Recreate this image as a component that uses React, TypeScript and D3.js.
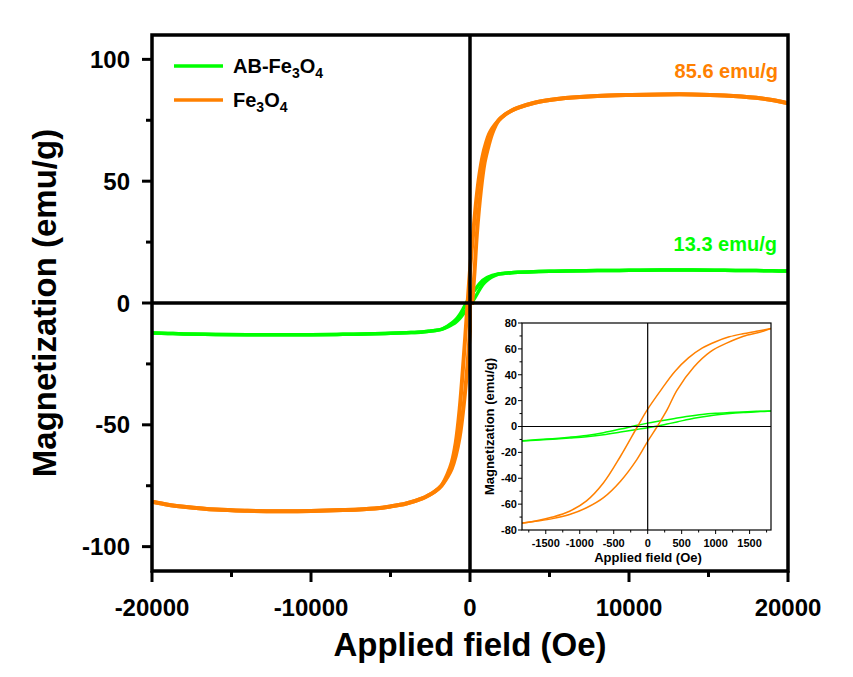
import React from "react";
import * as d3 from "d3";

// ---------- data ----------
const mainFieldPos = [1800, 2200, 2600, 3000, 4000, 5000, 6000, 8000, 10000, 12000, 14000, 16000, 18000, 19000, 20000];
const mainFieldNeg = [-1800, -2200, -2600, -3000, -4000, -5000, -6000, -8000, -10000, -12000, -14000, -16000, -18000, -19000, -20000];
const orangeMainPos = [75.0, 77.3, 78.9, 80.1, 82.1, 83.3, 84.1, 85.0, 85.4, 85.6, 85.6, 85.2, 84.2, 83.3, 82];
const orangeMainNeg = [-75.0, -77.3, -78.9, -80.2, -82.3, -83.5, -84.3, -85.0, -85.4, -85.5, -85.3, -84.8, -83.6, -82.8, -81.6];
const greenMainPos = [11.9, 12.2, 12.45, 12.6, 12.85, 13.0, 13.1, 13.3, 13.4, 13.5, 13.5, 13.4, 13.3, 13.2, 13.1];
const greenMainNeg = [-10.8, -11.3, -11.6, -11.9, -12.2, -12.45, -12.65, -12.85, -13.0, -13.0, -13.0, -12.9, -12.7, -12.5, -12.3];

const insetFieldDesc = [1815, 1600, 1400, 1200, 1000, 800, 600, 400, 200, 0, -150, -400, -650, -900, -1150, -1400, -1650, -1850];
const orangeInsetDesc = [75.7, 73.6, 71.7, 69.3, 65.5, 60.5, 53, 42.5, 28.5, 13.4, 0, -23, -43.5, -57.5, -65.5, -70, -73, -74.5];
const greenInsetDesc = [12.0, 11.7, 11.3, 10.8, 10.2, 9.3, 7.9, 6.2, 4.4, 2.6, 1.0, -2.0, -4.8, -6.9, -8.3, -9.4, -10.3, -11.0];
const insetFieldAsc = [-1850, -1650, -1400, -1150, -900, -650, -400, -160, 0, 140, 285, 430, 680, 920, 1170, 1410, 1660, 1815];
const orangeInsetAsc = [-74.8, -73.3, -71.2, -68, -62.8, -55, -42.3, -25.6, -11.5, 0, 12.8, 28, 46, 57.7, 64.6, 69.8, 73, 75.7];
const greenInsetAsc = [-11.2, -10.6, -9.8, -8.9, -7.9, -6.4, -4.3, -2.3, -1.0, 0.4, 1.9, 3.5, 6.4, 8.4, 9.8, 10.8, 11.5, 12.0];

const mainXTicks = [-20000, -10000, 0, 10000, 20000];
const mainXMinor = [-15000, -5000, 5000, 15000];
const mainYTicks = [-100, -50, 0, 50, 100];
const mainYMinor = [-75, -25, 25, 75];
const insetXTicks = [-1500, -1000, -500, 0, 500, 1000, 1500];
const insetXMinor = [-1750, -1250, -750, -250, 250, 750, 1250, 1750];
const insetYTicks = [-80, -60, -40, -20, 0, 20, 40, 60, 80];
const insetYMinor = [-70, -50, -30, -10, 10, 30, 50, 70];

const ORANGE = "#FF8000";
const GREEN = "#00FF00";
const FONT = "'Liberation Sans', Arial, Helvetica, sans-serif";

type P = [number, number];
const zip = (xs: number[], ys: number[]): P[] => xs.map((x, i) => [x, ys[i]]);

function branches(posF: number[], posM: number[], negF: number[], negM: number[], dF: number[], dM: number[], aF: number[], aM: number[]) {
  const core = (p: P) => Math.abs(p[0]) <= 1450;
  const desc: P[] = [...zip(posF, posM).reverse(), ...zip(dF, dM).filter(core), ...zip(negF, negM)];
  const asc: P[] = [...zip(negF, negM).reverse(), ...zip(aF, aM).filter(core), ...zip(posF, posM)];
  return [desc, asc];
}

export default function App() {
  const W = 853, H = 677;
  const L = 152, R = 788, T = 35, B = 571;
  const x = d3.scaleLinear().domain([-20000, 20000]).range([L, R]);
  const y = d3.scaleLinear().domain([-110, 110]).range([B, T]);

  const iL = 522, iR = 771, iT = 323, iB = 530;
  const ix = d3.scaleLinear().domain([-1850, 1815]).range([iL, iR]);
  const iy = d3.scaleLinear().domain([-80, 80]).range([iB, iT]);

  const mainLine = d3.line<P>().x(d => x(d[0])).y(d => y(d[1])).curve(d3.curveCatmullRom.alpha(0.5));
  const insetLine = d3.line<P>().x(d => ix(d[0])).y(d => iy(d[1])).curve(d3.curveCatmullRom.alpha(0.5));

  const orangeMain = branches(mainFieldPos, orangeMainPos, mainFieldNeg, orangeMainNeg, insetFieldDesc, orangeInsetDesc, insetFieldAsc, orangeInsetAsc);
  const greenMain = branches(mainFieldPos, greenMainPos, mainFieldNeg, greenMainNeg, insetFieldDesc, greenInsetDesc, insetFieldAsc, greenInsetAsc);
  const orangeInset = [zip(insetFieldDesc, orangeInsetDesc), zip(insetFieldAsc, orangeInsetAsc)];
  const greenInset = [zip(insetFieldDesc, greenInsetDesc), zip(insetFieldAsc, greenInsetAsc)];

  const sw = 3.5;

  return (
    <svg width={W} height={H} style={{ position: "fixed", left: 0, top: 0, background: "#fff" }} fontFamily={FONT} fontWeight="bold">
      <defs>
        <clipPath id="mainClip"><rect x={L} y={T} width={R - L} height={B - T} /></clipPath>
        <clipPath id="insetClip"><rect x={iL} y={iT} width={iR - iL} height={iB - iT} /></clipPath>
      </defs>
      <rect x={0} y={0} width={W} height={H} fill="#fff" />

      {/* main curves */}
      <g clipPath="url(#mainClip)" fill="none" strokeLinejoin="round">
        {greenMain.map((b, i) => <path key={"gm" + i} d={mainLine(b) || ""} stroke={GREEN} strokeWidth={3.5} />)}
        {orangeMain.map((b, i) => <path key={"om" + i} d={mainLine(b) || ""} stroke={ORANGE} strokeWidth={4} />)}
      </g>

      {/* inset background */}
      <rect x={472} y={305} width={315} height={264} fill="#fff" />

      {/* main zero lines */}
      <line x1={L} x2={R} y1={y(0)} y2={y(0)} stroke="#000" strokeWidth={sw} />
      <line x1={x(0)} x2={x(0)} y1={T} y2={B} stroke="#000" strokeWidth={sw} />
      {/* main frame */}
      <rect x={L} y={T} width={R - L} height={B - T} fill="none" stroke="#000" strokeWidth={sw} />

      {/* main y ticks */}
      {mainYTicks.map(v => (
        <g key={"my" + v}>
          <line x1={L - 10} x2={L} y1={y(v)} y2={y(v)} stroke="#000" strokeWidth={3} />
          <text x={130} y={y(v)} dy="0.36em" textAnchor="end" fontSize={24}>{v}</text>
        </g>
      ))}
      {mainYMinor.map(v => <line key={"mym" + v} x1={L - 6} x2={L} y1={y(v)} y2={y(v)} stroke="#000" strokeWidth={3} />)}
      {/* main x ticks */}
      {mainXTicks.map(v => (
        <g key={"mx" + v}>
          <line x1={x(v)} x2={x(v)} y1={B} y2={B + 11} stroke="#000" strokeWidth={3} />
          <text x={x(v)} y={616} textAnchor="middle" fontSize={24}>{v}</text>
        </g>
      ))}
      {mainXMinor.map(v => <line key={"mxm" + v} x1={x(v)} x2={x(v)} y1={B} y2={B + 6} stroke="#000" strokeWidth={3} />)}

      {/* axis titles */}
      <text x={470} y={656} textAnchor="middle" fontSize={33}>Applied field (Oe)</text>
      <text transform={`translate(56,${y(0)}) rotate(-90)`} textAnchor="middle" fontSize={33}>Magnetization (emu/g)</text>

      {/* legend */}
      <line x1={174} x2={223} y1={66} y2={66} stroke={GREEN} strokeWidth={3.5} />
      <text x={233} y={73} fontSize={20}>
        AB-Fe<tspan fontSize={14} dy={5}>3</tspan><tspan dy={-5}>O</tspan><tspan fontSize={14} dy={5}>4</tspan>
      </text>
      <line x1={174} x2={223} y1={100} y2={100} stroke={ORANGE} strokeWidth={3.5} />
      <text x={233} y={107} fontSize={20}>
        Fe<tspan fontSize={14} dy={5}>3</tspan><tspan dy={-5}>O</tspan><tspan fontSize={14} dy={5}>4</tspan>
      </text>

      {/* annotations */}
      <text x={778} y={78} textAnchor="end" fontSize={20} fill={ORANGE}>85.6 emu/g</text>
      <text x={777} y={251} textAnchor="end" fontSize={20} fill={GREEN}>13.3 emu/g</text>

      {/* inset */}
      <g>
        <g clipPath="url(#insetClip)" fill="none">
          {greenInset.map((b, i) => <path key={"gi" + i} d={insetLine(b) || ""} stroke={GREEN} strokeWidth={1.5} />)}
          {orangeInset.map((b, i) => <path key={"oi" + i} d={insetLine(b) || ""} stroke={ORANGE} strokeWidth={1.5} />)}
        </g>
        <line x1={iL} x2={iR} y1={iy(0)} y2={iy(0)} stroke="#000" strokeWidth={1.2} />
        <line x1={ix(0)} x2={ix(0)} y1={iT} y2={iB} stroke="#000" strokeWidth={1.2} />
        <rect x={iL} y={iT} width={iR - iL} height={iB - iT} fill="none" stroke="#000" strokeWidth={1.2} />
        {insetYTicks.map(v => (
          <g key={"iy" + v}>
            <line x1={iL - 4} x2={iL} y1={iy(v)} y2={iy(v)} stroke="#000" strokeWidth={1} />
            <text x={517} y={iy(v)} dy="0.36em" textAnchor="end" fontSize={11}>{v}</text>
          </g>
        ))}
        {insetYMinor.map(v => <line key={"iym" + v} x1={iL - 2.5} x2={iL} y1={iy(v)} y2={iy(v)} stroke="#000" strokeWidth={1} />)}
        {insetXTicks.map(v => (
          <g key={"ix" + v}>
            <line x1={ix(v)} x2={ix(v)} y1={iB} y2={iB + 4} stroke="#000" strokeWidth={1} />
            <text x={ix(v)} y={547} textAnchor="middle" fontSize={11}>{v}</text>
          </g>
        ))}
        {insetXMinor.map(v => <line key={"ixm" + v} x1={ix(v)} x2={ix(v)} y1={iB} y2={iB + 2.5} stroke="#000" strokeWidth={1} />)}
        <text x={648} y={562} textAnchor="middle" fontSize={13}>Applied field (Oe)</text>
        <text transform={`translate(494,${iy(0)}) rotate(-90)`} textAnchor="middle" fontSize={13}>Magnetization (emu/g)</text>
      </g>
    </svg>
  );
}
